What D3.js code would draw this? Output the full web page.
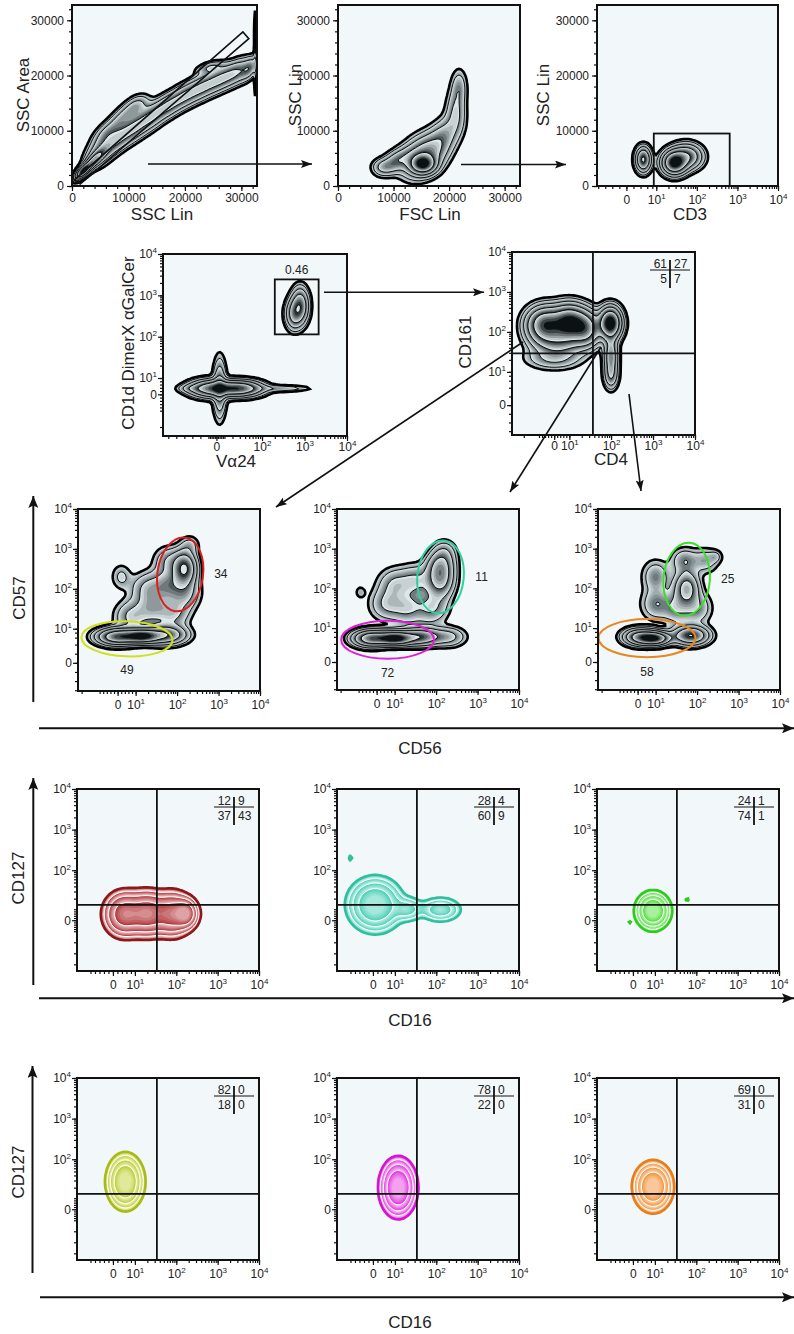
<!DOCTYPE html>
<html>
<head>
<meta charset="utf-8">
<script src="https://cdn.jsdelivr.net/npm/d3@7"></script>
<style>
  body { margin: 0; background: #fff; }
  text { font-family: "Liberation Sans", Arial, sans-serif; fill: #222; }
</style>
</head>
<body>
<script>
// ---------- data ----------
// populations: centre in axis values, spread in axis units (raw on linear axes, decades on log axes), weight w, correlation r
const popA = [
  {x: 2000, y: 2700, sx: 800, sy: 800, r: 0.7, w: 1},
  {x: 3800, y: 4600, sx: 1200, sy: 1200, r: 0.8, w: 0.5},
  {x: 5000, y: 6000, sx: 1600, sy: 1600, r: 0.5, w: 0.2},
  {x: 8000, y: 8500, sx: 1600, sy: 1600, r: 0.5, w: 0.2},
  {x: 11000, y: 10500, sx: 1600, sy: 1600, r: 0.5, w: 0.2},
  {x: 14000, y: 12500, sx: 1600, sy: 1600, r: 0.5, w: 0.2},
  {x: 17000, y: 14500, sx: 1600, sy: 1500, r: 0.5, w: 0.2},
  {x: 20000, y: 16300, sx: 1600, sy: 1500, r: 0.5, w: 0.2},
  {x: 23000, y: 17800, sx: 1600, sy: 1500, r: 0.5, w: 0.2},
  {x: 26000, y: 19200, sx: 1600, sy: 1500, r: 0.5, w: 0.2},
  {x: 29000, y: 20500, sx: 1600, sy: 1500, r: 0.5, w: 0.2},
  {x: 31500, y: 21300, sx: 1000, sy: 1300, r: 0.5, w: 0.15},
  {x: 6000, y: 9500, sx: 1500, sy: 1500, r: 0.6, w: 0.12},
  {x: 9000, y: 12500, sx: 1500, sy: 1500, r: 0.6, w: 0.12},
  {x: 11500, y: 14500, sx: 1300, sy: 1200, r: 0.4, w: 0.12},
  {x: 24500, y: 21500, sx: 1500, sy: 700, r: 0.5, w: 0.1},
  {x: 32400, y: 20000, sx: 100, sy: 3500, w: 0.04},
  {x: 32400, y: 28000, sx: 100, sy: 3500, w: 0.04}
];
const popB = [
  {x: 15300, y: 4000, sx: 1300, sy: 1000, w: 1},
  {x: 15500, y: 5500, sx: 2300, sy: 2200, r: 0.3, w: 0.4},
  {x: 10500, y: 4500, sx: 1800, sy: 1400, r: 0.5, w: 0.2},
  {x: 8000, y: 3500, sx: 1200, sy: 900, w: 0.1},
  {x: 19000, y: 9000, sx: 1800, sy: 2200, r: 0.4, w: 0.15},
  {x: 21200, y: 13500, sx: 1100, sy: 2500, w: 0.12},
  {x: 21800, y: 18000, sx: 900, sy: 2000, w: 0.09}
];
const popC = [
  {x: 4.8, y: 4800, sx: 0.11, sy: 1300, w: 0.5},
  {x: 28, y: 4200, sx: 0.17, sy: 1200, w: 1},
  {x: 55, y: 5300, sx: 0.22, sy: 1300, w: 0.45}
];
const popD = [
  {x: -4, y: 3.6, sx: 0.3, sy: 0.12, w: 0.9},
  {x: 30, y: 3.6, sx: 0.3, sy: 0.11, w: 0.9},
  {x: 4, y: 3.6, sx: 0.09, sy: 0.4, w: 0.3},
  {x: -30, y: 3.6, sx: 0.2, sy: 0.06, w: 0.12},
  {x: 250, y: 3.6, sx: 0.45, sy: 0.05, w: 0.1},
  {x: 790, y: 560, sx: 0.12, sy: 0.25, w: 0.45},
  {x: 560, y: 355, sx: 0.12, sy: 0.22, w: 0.3}
];
const popE = [
  {x: -6, y: 150, sx: 0.25, sy: 0.25, w: 0.7},
  {x: 10, y: 170, sx: 0.25, sy: 0.25, w: 0.85},
  {x: 25, y: 120, sx: 0.2, sy: 0.25, w: 0.5},
  {x: 3, y: 60, sx: 0.35, sy: 0.2, w: 0.25},
  {x: 0, y: 22, sx: 0.4, sy: 0.17, w: 0.1},
  {x: 96, y: 165, sx: 0.15, sy: 0.22, w: 1},
  {x: 100, y: 25, sx: 0.1, sy: 0.3, w: 0.3},
  {x: 100, y: 8, sx: 0.1, sy: 0.2, w: 0.15}
];
const popF1 = [
  {x: 0, y: 6.3, sx: 0.28, sy: 0.12, w: 0.8},
  {x: 14, y: 6.5, sx: 0.25, sy: 0.1, w: 1},
  {x: 50, y: 7, sx: 0.3, sy: 0.14, w: 0.45},
  {x: 150, y: 320, sx: 0.17, sy: 0.25, w: 0.5},
  {x: 7.7, y: 20, sx: 0.25, sy: 0.25, w: 0.12},
  {x: 25, y: 32, sx: 0.25, sy: 0.25, w: 0.12},
  {x: 79, y: 25, sx: 0.25, sy: 0.25, w: 0.12},
  {x: 20, y: 100, sx: 0.25, sy: 0.25, w: 0.12},
  {x: 63, y: 126, sx: 0.25, sy: 0.25, w: 0.15},
  {x: 158, y: 79, sx: 0.22, sy: 0.25, w: 0.12},
  {x: 63, y: 500, sx: 0.22, sy: 0.22, w: 0.1},
  {x: 200, y: 1260, sx: 0.15, sy: 0.15, w: 0.06},
  {x: 2, y: 200, sx: 0.15, sy: 0.2, w: 0.06}
];
const popF2 = [
  {x: -3, y: 5.5, sx: 0.25, sy: 0.12, w: 0.7},
  {x: 10, y: 5.5, sx: 0.25, sy: 0.1, w: 1},
  {x: 40, y: 6, sx: 0.3, sy: 0.13, w: 0.4},
  {x: 200, y: 6, sx: 0.25, sy: 0.15, w: 0.12},
  {x: 126, y: 186, sx: 0.2, sy: 0.3, w: 0.3},
  {x: 5.4, y: 40, sx: 0.25, sy: 0.25, w: 0.1},
  {x: 20, y: 32, sx: 0.25, sy: 0.25, w: 0.1},
  {x: 79, y: 32, sx: 0.25, sy: 0.25, w: 0.1},
  {x: 10, y: 126, sx: 0.25, sy: 0.25, w: 0.1},
  {x: 32, y: 158, sx: 0.25, sy: 0.25, w: 0.1},
  {x: 158, y: 794, sx: 0.18, sy: 0.2, w: 0.08},
  {x: 126, y: 400, sx: 0.2, sy: 0.2, w: 0.12},
  {x: -9, y: 80, sx: 0.08, sy: 0.1, w: 0.04}
];
const popF3 = [
  {x: 1, y: 6, sx: 0.22, sy: 0.12, w: 0.6},
  {x: 9, y: 5.5, sx: 0.22, sy: 0.1, w: 1},
  {x: 70, y: 6.5, sx: 0.25, sy: 0.14, w: 0.5},
  {x: 56, y: 100, sx: 0.18, sy: 0.25, w: 0.3},
  {x: 10, y: 40, sx: 0.22, sy: 0.25, w: 0.1},
  {x: 32, y: 32, sx: 0.22, sy: 0.25, w: 0.1},
  {x: 100, y: 32, sx: 0.22, sy: 0.25, w: 0.1},
  {x: 10, y: 200, sx: 0.2, sy: 0.25, w: 0.1},
  {x: 50, y: 500, sx: 0.2, sy: 0.2, w: 0.1},
  {x: 158, y: 500, sx: 0.2, sy: 0.2, w: 0.08},
  {x: 282, y: 631, sx: 0.1, sy: 0.1, w: 0.05}
];
const popG1 = [
  {x: 5, y: 5.5, sx: 0.25, sy: 0.28, w: 0.8},
  {x: 20, y: 6, sx: 0.25, sy: 0.28, w: 0.8},
  {x: 80, y: 5.5, sx: 0.25, sy: 0.28, w: 0.75},
  {x: 170, y: 6, sx: 0.15, sy: 0.18, w: 0.9}
];
const popG2 = [
  {x: 1, y: 14, sx: 0.3, sy: 0.3, w: 1},
  {x: 20, y: 10, sx: 0.2, sy: 0.15, w: 0.3},
  {x: 126, y: 9.6, sx: 0.25, sy: 0.15, w: 0.35},
  {x: -10, y: 200, sx: 0.04, sy: 0.06, w: 0.08}
];
const popG3 = [
  {x: 9, y: 8.5, sx: 0.19, sy: 0.21, w: 1},
  {x: 60, y: 19, sx: 0.04, sy: 0.05, w: 0.07},
  {x: -1.5, y: -2, sx: 0.04, sy: 0.04, w: 0.06}
];
const popH1 = [{x: 5.5, y: 28, sx: 0.2, sy: 0.3, w: 1}];
const popH2 = [{x: 12, y: 20, sx: 0.2, sy: 0.32, w: 1}];
const popH3 = [{x: 9, y: 21, sx: 0.21, sy: 0.27, w: 1}];

// gates
const gateA = [[400, 1080], [1460, 360], [31320, 26670], [30270, 27880]];
const gateC = {x0: 8.7, x1: 645, y0: 0, y1: 9500};
const gateD = {x0: 200, x1: 2150, y0: 114, y1: 2430, label: "0.46"};
const quadE = [37, 29];
const quadGH = [34, 14];
// ellipse gates: centre (values), radii in decades, rotation in degrees
const ellF1 = [{x: 119, y: 230, rx: 0.55, ry: 0.93, rot: 8, color: "#d8201e", label: "34", lx: 0.95, ly: 0},
               {x: 5.2, y: 5.6, rx: 1.1, ry: 0.44, rot: 2, color: "#cfe01c", label: "49", lx: 0, ly: -0.78}];
const ellF2 = [{x: 128, y: 195, rx: 0.56, ry: 0.92, rot: 6, color: "#2fcf9d", label: "11", lx: 0.95, ly: 0},
               {x: 6.1, y: 5.1, rx: 1.12, ry: 0.48, rot: 0, color: "#e01ed6", label: "72", lx: 0, ly: -0.82}];
const ellF3 = [{x: 56, y: 170, rx: 0.56, ry: 0.92, rot: 5, color: "#3ddf2b", label: "25", lx: 0.95, ly: 0},
               {x: 5.2, y: 5.6, rx: 1.17, ry: 0.48, rot: 0, color: "#e8861f", label: "58", lx: 0, ly: -0.82}];
// quadrant percentages [UL, UR, LL, LR]
const statsE = ["61", "27", "5", "7"];
const statsG1 = ["12", "9", "37", "43"];
const statsG2 = ["28", "4", "60", "9"];
const statsG3 = ["24", "1", "74", "1"];
const statsH1 = ["82", "0", "18", "0"];
const statsH2 = ["78", "0", "22", "0"];
const statsH3 = ["69", "0", "31", "0"];

// tick labels
const ticksLin = [0, 10000, 20000, 30000];
const ticksLog = [0, 10, 100, 1000, 10000];
const ticksLogNo10 = [0, 100, 1000, 10000];

// ---------- helpers ----------
const svg = d3.select("body").append("svg").attr("width", 794).attr("height", 1334);
const defs = svg.append("defs");

function logicle(T) {
  const l = Math.log10(T), k = 1 / (T * Math.LN10);
  return v => v >= T ? Math.log10(v) : l + (v - T) * k;
}

function logMinor(T, min) {
  const f = logicle(T), out = [0];
  [2, 4, 6, 8].forEach(m => { out.push(m, -m); });
  for (let k = 1; k < 4; k++) for (let m = 1; m < 10; m++) out.push(m * 10 ** k, -m * 10 ** k);
  out.push(10000);
  return out.filter(v => f(v) >= min - 1e-9 && f(v) <= 4);
}

function makeAxis(spec, len, vertical) {
  const f = spec.log ? logicle(spec.T) : (v => v);
  const d0 = spec.log ? spec.min : 0, d1 = spec.log ? 4 : spec.max;
  const lin = d3.scaleLinear().domain([d0, d1]).range(vertical ? [len, 0] : [0, len]);
  const s = v => lin(f(v));
  s.lin = lin; s.f = f; s.spec = spec; s.len = len;
  s.dec = len / (d1 - d0);
  s.minor = spec.log ? logMinor(spec.T, spec.min) : d3.range(0, spec.max + 1, 2000);
  s.labels = spec.labels;
  return s;
}

function drawAxis(g, a, side, h) {
  const gen = () => side === "bottom" ? d3.axisBottom(a.lin) : d3.axisLeft(a.lin);
  const tr = side === "bottom" ? `translate(0,${h})` : null;
  const mg = g.append("g").attr("transform", tr)
    .call(gen().tickValues(a.minor.map(a.f)).tickSize(3).tickFormat(""));
  const pad = a.spec.pad != null ? a.spec.pad :
    a.spec.log ? (side === "bottom" ? 4 : 1) : (side === "bottom" ? 2 : 3);
  const Mg = g.append("g").attr("transform", tr)
    .call(gen().tickValues(a.labels.map(a.f)).tickSize(5).tickPadding(pad).tickFormat((d, i) => a.spec.log ? "" : String(a.labels[i])));
  [mg, Mg].forEach(s => {
    s.select(".domain").remove();
    s.selectAll(".tick line").attr("stroke", "#111").attr("stroke-width", 1.2);
  });
  Mg.attr("font-size", 12).attr("font-family", null);
  Mg.selectAll(".tick text").attr("fill", "#222");
  if (a.spec.log) {
    Mg.selectAll(".tick text").each(function(d, i) {
      const v = a.labels[i], t = d3.select(this);
      if (v === 0) { t.text("0"); return; }
      t.append("tspan").text("10");
      t.append("tspan").attr("dy", -5).attr("font-size", 8).text(Math.round(Math.log10(v)));
    });
  }
}

function drawDensity(gp, ax, ay, pop, pal) {
  const cell = 2, nx = Math.ceil(ax.len / cell), ny = Math.ceil(ay.len / cell);
  const bl = pop.map(b => ({ux: ax.f(b.x), uy: ay.f(b.y), sx: b.sx, sy: b.sy, r: b.r || 0, w: b.w}));
  const vals = new Float64Array(nx * ny);
  for (let j = 0; j < ny; j++) {
    const uy = ay.lin.invert((j + 0.5) * cell);
    for (let i = 0; i < nx; i++) {
      const ux = ax.lin.invert((i + 0.5) * cell);
      let s = 0;
      for (const b of bl) {
        const dx = (ux - b.ux) / b.sx, dy = (uy - b.uy) / b.sy;
        const q = (dx * dx - 2 * b.r * dx * dy + dy * dy) / (1 - b.r * b.r);
        s += b.w * Math.exp(-0.5 * q);
      }
      vals[i + j * nx] = s;
    }
  }
  const mx = d3.max(vals), N = pal.bands, S = 6, lo = pal.lo, hi = 0.85;
  const th = [];
  for (let b = 0; b < N; b++) for (let s = 0; s < S; s++) th.push(mx * lo * Math.pow(hi / lo, (b + s / S) / N));
  const cs = d3.contours().size([nx, ny]).thresholds(th)(vals);
  const path = d3.geoPath(d3.geoIdentity().scale(cell));
  gp.append("g").selectAll("path").data(cs).join("path")
    .attr("d", path)
    .attr("fill", (d, i) => pal.color(Math.floor(i / S) / (N - 1), (i % S) / (S - 1)));
  gp.append("g").selectAll("path").data(cs.filter((d, i) => i > 0 && i % S === 0)).join("path")
    .attr("d", path).attr("fill", "none").attr("stroke", pal.line).attr("stroke-width", pal.lw);
  gp.append("path").datum(cs[0]).attr("d", path).attr("fill", "none")
    .attr("stroke", pal.edge).attr("stroke-width", 2.6);
}

function panel(p) {
  const g = svg.append("g").attr("transform", `translate(${p.x},${p.y})`);
  const ax = makeAxis(p.xa, p.w, false), ay = makeAxis(p.ya, p.h, true);
  defs.append("clipPath").attr("id", "clip" + p.id).append("rect").attr("width", p.w).attr("height", p.h);
  g.append("rect").attr("width", p.w).attr("height", p.h).attr("fill", "#f2f7f9");
  const inner = g.append("g").attr("clip-path", `url(#clip${p.id})`);
  drawDensity(inner, ax, ay, p.pop, p.pal);
  drawAxis(g, ax, "bottom", p.h);
  drawAxis(g, ay, "left", p.h);
  g.append("rect").attr("width", p.w).attr("height", p.h).attr("fill", "none")
    .attr("stroke", "#111").attr("stroke-width", 2);
  return {g, ax, ay, inner, p};
}

function quad(P, q, stats) {
  const {inner, ax, ay, p, g} = P;
  inner.append("line").attr("x1", ax(q[0])).attr("x2", ax(q[0])).attr("y1", 0).attr("y2", p.h)
    .attr("stroke", "#111").attr("stroke-width", 1.8);
  inner.append("line").attr("x1", 0).attr("x2", p.w).attr("y1", ay(q[1])).attr("y2", ay(q[1]))
    .attr("stroke", "#111").attr("stroke-width", 1.8);
  const cx = p.w - 25, cy = 18;
  const s = g.append("g").attr("transform", `translate(${cx},${cy})`).attr("font-size", 12);
  s.append("line").attr("x1", -20).attr("x2", 20).attr("stroke", "#111").attr("stroke-width", 1.2);
  s.append("line").attr("y1", -10).attr("y2", 18).attr("stroke", "#111").attr("stroke-width", 1.8);
  s.append("text").attr("x", -3).attr("y", -2).attr("text-anchor", "end").text(stats[0]);
  s.append("text").attr("x", 4).attr("y", -2).text(stats[1]);
  s.append("text").attr("x", -3).attr("y", 12.5).attr("text-anchor", "end").text(stats[2]);
  s.append("text").attr("x", 4).attr("y", 12.5).text(stats[3]);
}

function ellipses(P, list) {
  const {inner, g, ax, ay} = P;
  list.forEach(e => {
    const cx = ax(e.x), cy = ay(e.y), rx = e.rx * ax.dec, ry = e.ry * ay.dec;
    inner.append("ellipse").attr("cx", cx).attr("cy", cy).attr("rx", rx).attr("ry", ry)
      .attr("transform", `rotate(${e.rot},${cx},${cy})`)
      .attr("fill", "none").attr("stroke", e.color).attr("stroke-width", 2);
    g.append("text").attr("x", cx + e.lx * (rx + 20)).attr("y", cy - e.ly * (ry + 22) + 4)
      .attr("text-anchor", "middle").attr("font-size", 12).text(e.label);
  });
}

// ---------- scales ----------
const lin = {log: false, max: 32768, labels: ticksLin};
const axC = {log: true, T: 5, min: -0.46, labels: ticksLog};
const axDx = {log: true, T: 23, min: -0.33, labels: ticksLogNo10, pad: 1};
const axDy = {log: true, T: 11, min: -0.4, labels: ticksLog};
const axEx = {log: true, T: 12, min: -0.36, labels: ticksLog, pad: 1};
const axEy = {log: true, T: 4, min: -0.58, labels: ticksLog};
const axFx = {log: true, T: 10, min: -0.39, labels: ticksLog};
const axFy = {log: true, T: 3.8, min: -0.56, labels: ticksLog};
const axGx = {log: true, T: 8, min: -0.4, labels: ticksLog};
const axGy = {log: true, T: 16, min: -0.48, labels: ticksLogNo10};

// zebra shading: each contour band runs light -> dark; darker bands towards the core
const gray = {
  bands: 5, lo: 0.02, edge: "#000", line: "#000", lw: 0.9,
  color: (b, f) => d3.interpolateRgb("#dde6e8", d3.interpolateRgb("#8d9da1", "#0c1214")(b))(Math.pow(f, 1.2))
};
const pal = c => ({
  bands: 4, lo: 0.05, edge: c[2], line: "#fff", lw: 1,
  color: (b, f) => d3.interpolateRgb(c[1], c[0])(0.15 + 0.85 * f * (1 - 0.35 * b))
});

// ---------- panels ----------
const A = panel({id: "A", x: 72, y: 5, w: 185, h: 181, xa: lin, ya: lin, pop: popA, pal: gray});
A.inner.append("path").attr("d", d3.line().x(d => A.ax(d[0])).y(d => A.ay(d[1])).curve(d3.curveLinearClosed)(gateA))
  .attr("fill", "none").attr("stroke", "#111").attr("stroke-width", 1.6);

const B = panel({id: "B", x: 338, y: 5, w: 182, h: 181, xa: lin, ya: lin, pop: popB, pal: gray});

const C = panel({id: "C", x: 597, y: 5, w: 181, h: 181, xa: axC, ya: lin, pop: popC, pal: gray});
C.inner.append("rect").attr("x", C.ax(gateC.x0)).attr("y", C.ay(gateC.y1))
  .attr("width", C.ax(gateC.x1) - C.ax(gateC.x0)).attr("height", C.ay(gateC.y0) - C.ay(gateC.y1))
  .attr("fill", "none").attr("stroke", "#111").attr("stroke-width", 1.8);

const D = panel({id: "D", x: 163, y: 254, w: 184, h: 182, xa: axDx, ya: axDy, pop: popD, pal: gray});
D.inner.append("rect").attr("x", D.ax(gateD.x0)).attr("y", D.ay(gateD.y1))
  .attr("width", D.ax(gateD.x1) - D.ax(gateD.x0)).attr("height", D.ay(gateD.y0) - D.ay(gateD.y1))
  .attr("fill", "none").attr("stroke", "#111").attr("stroke-width", 1.8);
D.g.append("text").attr("x", (D.ax(gateD.x0) + D.ax(gateD.x1)) / 2).attr("y", D.ay(gateD.y1) - 5)
  .attr("text-anchor", "middle").attr("font-size", 12).text(gateD.label);

const E = panel({id: "E", x: 512, y: 252, w: 183, h: 183, xa: axEx, ya: axEy, pop: popE, pal: gray});
quad(E, quadE, statsE);

const F1 = panel({id: "F1", x: 78, y: 509, w: 182, h: 182, xa: axFx, ya: axFy, pop: popF1, pal: gray});
const F2 = panel({id: "F2", x: 337, y: 509, w: 182, h: 181, xa: axFx, ya: axFy, pop: popF2, pal: gray});
const F3 = panel({id: "F3", x: 598, y: 509, w: 182, h: 181, xa: axFx, ya: axFy, pop: popF3, pal: gray});
ellipses(F1, ellF1); ellipses(F2, ellF2); ellipses(F3, ellF3);

const rows = [
  {y: 789, pops: [popG1, popG2, popG3], stats: [statsG1, statsG2, statsG3],
   cols: [["#f7dde0", "#a3181c", "#8c1a1a"], ["#d6f6f0", "#34c9ad", "#2fbf9f"], ["#d8f9d0", "#34da22", "#2ccc1c"]]},
  {y: 1078, pops: [popH1, popH2, popH3], stats: [statsH1, statsH2, statsH3],
   cols: [["#f2f7d2", "#b4c617", "#a8ba14"], ["#fbd8f7", "#df1cdb", "#d316cf"], ["#fde3cc", "#ef8622", "#e67e1c"]]}
];
const colX = [77, 337, 597];
rows.forEach((r, ri) => r.pops.forEach((pop, ci) => {
  const P = panel({id: "G" + ri + ci, x: colX[ci], y: r.y, w: 182, h: 182, xa: axGx, ya: axGy, pop, pal: pal(r.cols[ci])});
  quad(P, quadGH, r.stats[ci]);
}));

// ---------- arrows and titles ----------
function marker(id, w, l) {
  defs.append("marker").attr("id", id).attr("markerUnits", "userSpaceOnUse")
    .attr("viewBox", `0 0 ${l} ${w}`).attr("refX", l).attr("refY", w / 2)
    .attr("markerWidth", l).attr("markerHeight", w).attr("orient", "auto")
    .append("path").attr("d", `M0,0L${l},${w / 2}L0,${w}L${l * 0.2},${w / 2}Z`).attr("fill", "#111");
}
marker("ah", 8, 11);
marker("ahBig", 10, 12);
const arrows = [
  [148, 164, 312, 164], [461, 164.5, 566, 164.5], [324, 292.3, 484, 292.3],
  [523, 342, 276, 507], [601, 347, 510, 492], [629, 394, 641, 491]
];
svg.append("g").selectAll("line").data(arrows).join("line")
  .attr("x1", d => d[0]).attr("y1", d => d[1]).attr("x2", d => d[2]).attr("y2", d => d[3])
  .attr("stroke", "#111").attr("stroke-width", 1.6).attr("marker-end", "url(#ah)");
const bigArrows = [
  [33.3, 702, 33.3, 496], [39, 728.3, 794, 728.3],
  [33.3, 985, 33.3, 778], [39, 998.3, 794, 998.3],
  [32.5, 1273, 32.5, 1066], [40, 1297.3, 794, 1297.3]
];
svg.append("g").selectAll("line").data(bigArrows).join("line")
  .attr("x1", d => d[0]).attr("y1", d => d[1]).attr("x2", d => d[2]).attr("y2", d => d[3])
  .attr("stroke", "#111").attr("stroke-width", 2).attr("marker-end", "url(#ahBig)");

const titles = [
  {t: "SSC Lin", x: 162, y: 220}, {t: "FSC Lin", x: 430, y: 220}, {t: "CD3", x: 690, y: 220},
  {t: "SSC Area", x: 29, y: 95, r: 1}, {t: "SSC Lin", x: 301, y: 95, r: 1}, {t: "SSC Lin", x: 549, y: 95, r: 1},
  {t: "Vα24", x: 236, y: 467}, {t: "CD4", x: 611, y: 465},
  {t: "CD1d DimerX αGalCer", x: 134, y: 343, r: 1}, {t: "CD161", x: 471, y: 342, r: 1},
  {t: "CD56", x: 420, y: 754}, {t: "CD57", x: 24.5, y: 598, r: 1},
  {t: "CD16", x: 410, y: 1026}, {t: "CD127", x: 23.5, y: 878, r: 1},
  {t: "CD16", x: 410, y: 1328}, {t: "CD127", x: 23.5, y: 1172, r: 1}
];
svg.append("g").selectAll("text").data(titles).join("text")
  .attr("transform", d => `translate(${d.x},${d.y})` + (d.r ? " rotate(-90)" : ""))
  .attr("text-anchor", "middle").attr("font-size", 17).text(d => d.t);
</script>
</body>
</html>
